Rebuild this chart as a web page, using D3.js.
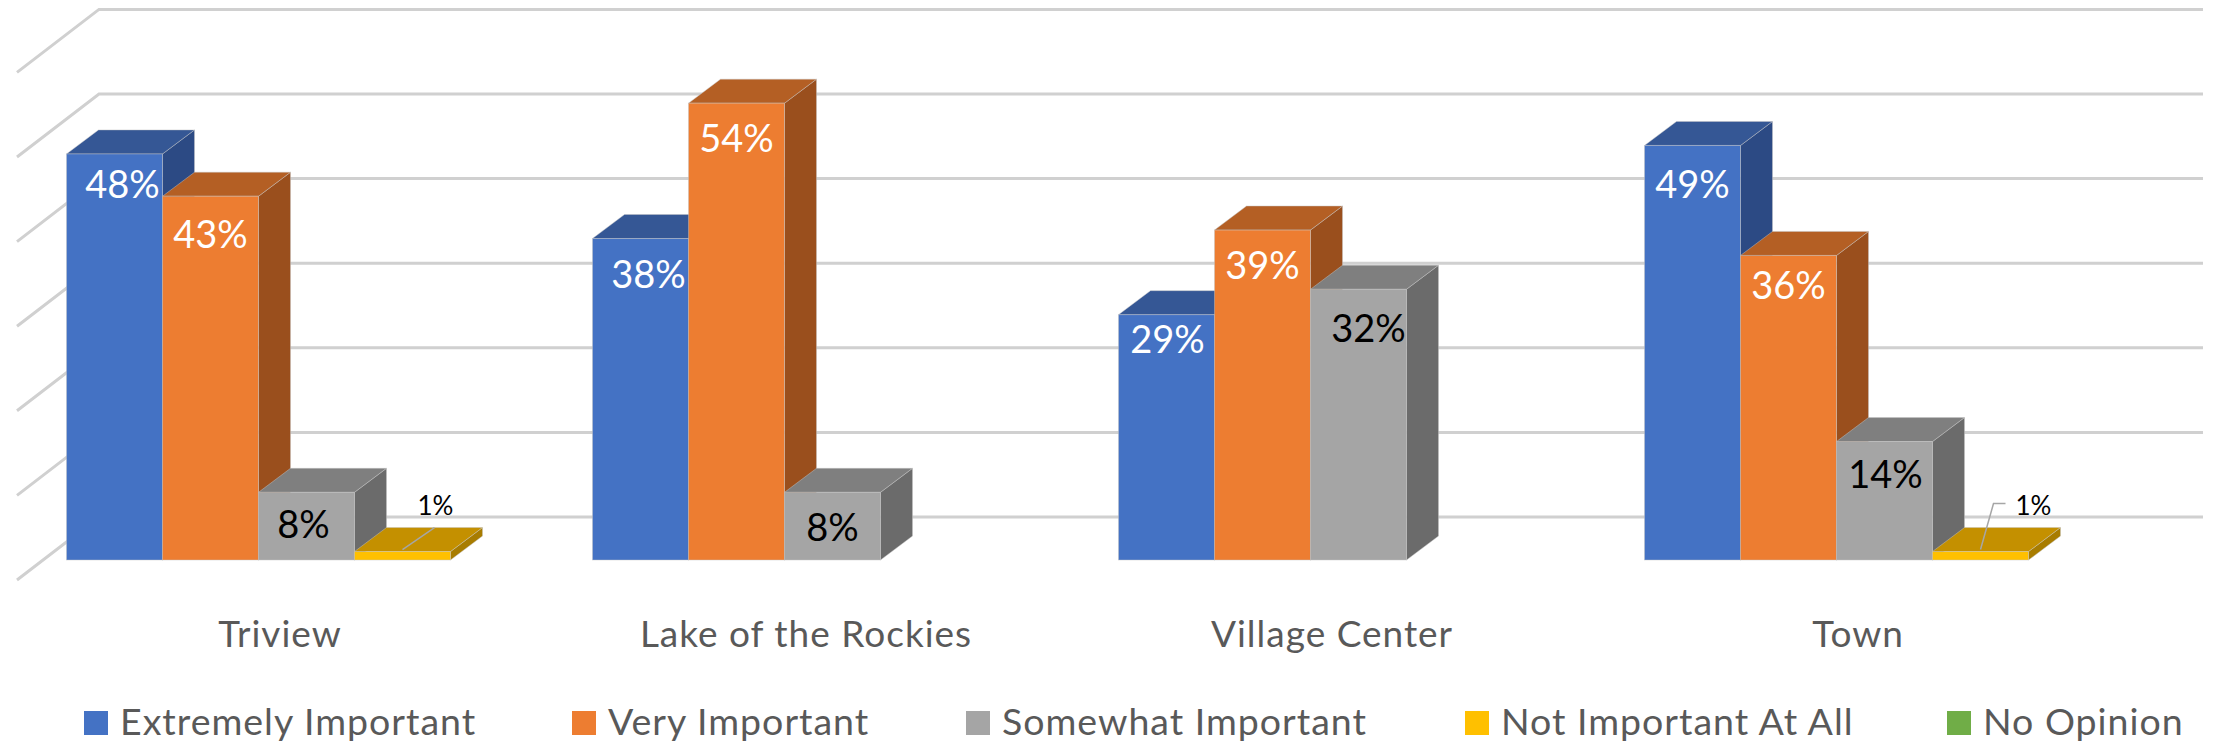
<!DOCTYPE html>
<html>
<head>
<meta charset="utf-8">
<title>Importance by area</title>
<script src="https://cdn.jsdelivr.net/npm/d3@7"></script>
<style>
    html, body { margin: 0; padding: 0; background: #fff; }
    svg { display: block; }
    text { font-family: Lato, "Open Sans", sans-serif; }
</style>
</head>
<body>
<div id="chart"></div>
<script>
// Data, in percent
const categories = ['Triview', 'Lake of the Rockies', 'Village Center', 'Town'];
const seriesNames = ['Extremely Important', 'Very Important', 'Somewhat Important', 'Not Important At All', 'No Opinion'];
const extremelyImportant = [48, 38, 29, 49];
const veryImportant = [43, 54, 39, 36];
const somewhatImportant = [8, 8, 32, 14];
const notImportantAtAll = [1, 0, 0, 1];
const noOpinion = [0, 0, 0, 0];
const gridTicks = [0, 10, 20, 30, 40, 50, 60];

const seriesValues = [extremelyImportant, veryImportant, somewhatImportant, notImportantAtAll, noOpinion];

// Front, top and side colours of each series
const faceColors = [
    { front: '#4472C4', top: '#355795', side: '#2C4A84' },
    { front: '#ED7D31', top: '#B45F24', side: '#9A4F1D' },
    { front: '#A5A5A5', top: '#7F7F7F', side: '#6B6B6B' },
    { front: '#FFC000', top: '#C49000', side: '#A87C00' },
    { front: '#70AD47', top: '#548235', side: '#466D2C' }
];
const labelColors = ['#fff', '#fff', '#000', '#000', '#000'];

// Hand placed labels, as in the original chart: "series,category" -> [dx, dy]
const labelNudge = {
    '0,0': [8, -5], '1,0': [0, 3], '2,0': [-3, -3],
    '0,1': [8, 0],
    '0,2': [1, -11], '2,2': [10, 4],
    '0,3': [0, 4], '1,3': [0, -5], '2,3': [1, -3]
};
const legendX = [84, 572, 966, 1465, 1947];

const width = 2219;
const height = 744;

// Oblique projection of the 3D box
const wallDx = 82, wallDy = 63;     // full floor depth
const frontDx = 26, frontDy = 20;   // floor front edge to bar front
const barDx = 32, barDy = 24;       // bar depth

const x0 = d3.scaleBand().domain(categories).range([43, 2147]);
const x1 = d3.scaleBand().domain(seriesNames).range([23.5, 503.5]);
const y = d3.scaleLinear().domain([0, 60]).range([560, 52.4]);

const svg = d3.select('#chart').append('svg')
    .attr('width', width)
    .attr('height', height);

// Walls: back gridline plus the slanted line on the left side
const grid = svg.append('g')
    .selectAll('g')
    .data(gridTicks)
    .enter()
    .append('g')
    .style('stroke', '#D0D0D0')
    .style('stroke-width', 3)
    .style('fill', 'none');

const backLeft = x0.range()[0] - frontDx + wallDx;
const backRight = x0.range()[1] - frontDx + wallDx;
grid.append('path')
    .attr('d', d => {
        const yBack = y(d) + frontDy - wallDy;
        return `M${backLeft - wallDx},${y(d) + frontDy}L${backLeft},${yBack}L${backRight},${yBack}`;
    });

// Bars, left to right so each one covers the side of the one before
const bars = [];
categories.forEach((category, c) => {
    seriesNames.forEach((name, s) => {
        if (seriesValues[s][c] > 0) bars.push({ category, c, name, s, value: seriesValues[s][c] });
    });
});

const bar = svg.append('g')
    .selectAll('g')
    .data(bars)
    .enter()
    .append('g')
    .style('stroke', '#C4C4C4')
    .style('stroke-opacity', 0.45)
    .style('stroke-width', 1);

const left = d => x0(d.category) + x1(d.name);
const right = d => left(d) + x1.bandwidth();

bar.append('path')
    .style('fill', d => faceColors[d.s].side)
    .attr('d', d => `M${right(d)},${y(d.value)}l${barDx},${-barDy}V${y(0) - barDy}L${right(d)},${y(0)}Z`);

bar.append('path')
    .style('fill', d => faceColors[d.s].top)
    .attr('d', d => `M${left(d)},${y(d.value)}l${barDx},${-barDy}H${right(d) + barDx}L${right(d)},${y(d.value)}Z`);

bar.append('rect')
    .style('fill', d => faceColors[d.s].front)
    .attr('x', left)
    .attr('y', d => y(d.value))
    .attr('width', x1.bandwidth())
    .attr('height', d => y(0) - y(d.value));

// Data labels
svg.append('g')
    .selectAll('text')
    .data(bars.filter(d => d.value > 1))
    .enter()
    .append('text')
    .attr('x', d => left(d) + x1.bandwidth() / 2 + (labelNudge[d.s + ',' + d.c] || [0, 0])[0])
    .attr('y', d => y(d.value) + 49 + (labelNudge[d.s + ',' + d.c] || [0, 0])[1])
    .attr('text-anchor', 'middle')
    .style('font-size', '38px')
    .style('fill', d => labelColors[d.s])
    .text(d => d.value + '%');

// The two 1% labels sit above the bar with a leader line
const small = bars.filter(d => d.value === 1);
const leaders = [
    [[0, 0], [32, -22]],
    [[0, 0], [13, -46], [25, -46]]
];
const smallLabelDx = [33, 53];

svg.append('g')
    .selectAll('path')
    .data(small)
    .enter()
    .append('path')
    .style('fill', 'none')
    .style('stroke', '#A6A6A6')
    .style('stroke-width', 1.5)
    .attr('d', (d, i) => {
        const cx = left(d) + x1.bandwidth() / 2;
        return d3.line()(leaders[i].map(p => [cx + p[0], y(d.value) + p[1] - 2]));
    });

svg.append('g')
    .selectAll('text')
    .data(small)
    .enter()
    .append('text')
    .attr('x', (d, i) => left(d) + x1.bandwidth() / 2 + smallLabelDx[i])
    .attr('y', 515)
    .attr('text-anchor', 'middle')
    .style('font-size', '26px')
    .style('fill', '#000')
    .text(d => d.value + '%');

// Category labels, centred on the front edge of the floor
svg.append('g')
    .selectAll('text')
    .data(categories)
    .enter()
    .append('text')
    .attr('x', d => x0(d) + x0.bandwidth() / 2 - frontDx)
    .attr('y', 647)
    .attr('text-anchor', 'middle')
    .style('font-size', '37px')
    .style('letter-spacing', '1px')
    .style('fill', '#595959')
    .text(d => d);

// Legend
const legend = svg.append('g')
    .selectAll('g')
    .data(seriesNames)
    .enter()
    .append('g')
    .attr('transform', (d, i) => `translate(${legendX[i]},711)`);

legend.append('rect')
    .attr('width', 24)
    .attr('height', 24)
    .style('fill', (d, i) => faceColors[i].front);

legend.append('text')
    .attr('x', 36)
    .attr('y', 24)
    .style('font-size', '37.5px')
    .style('letter-spacing', '1px')
    .style('fill', '#595959')
    .text(d => d);
</script>
</body>
</html>
